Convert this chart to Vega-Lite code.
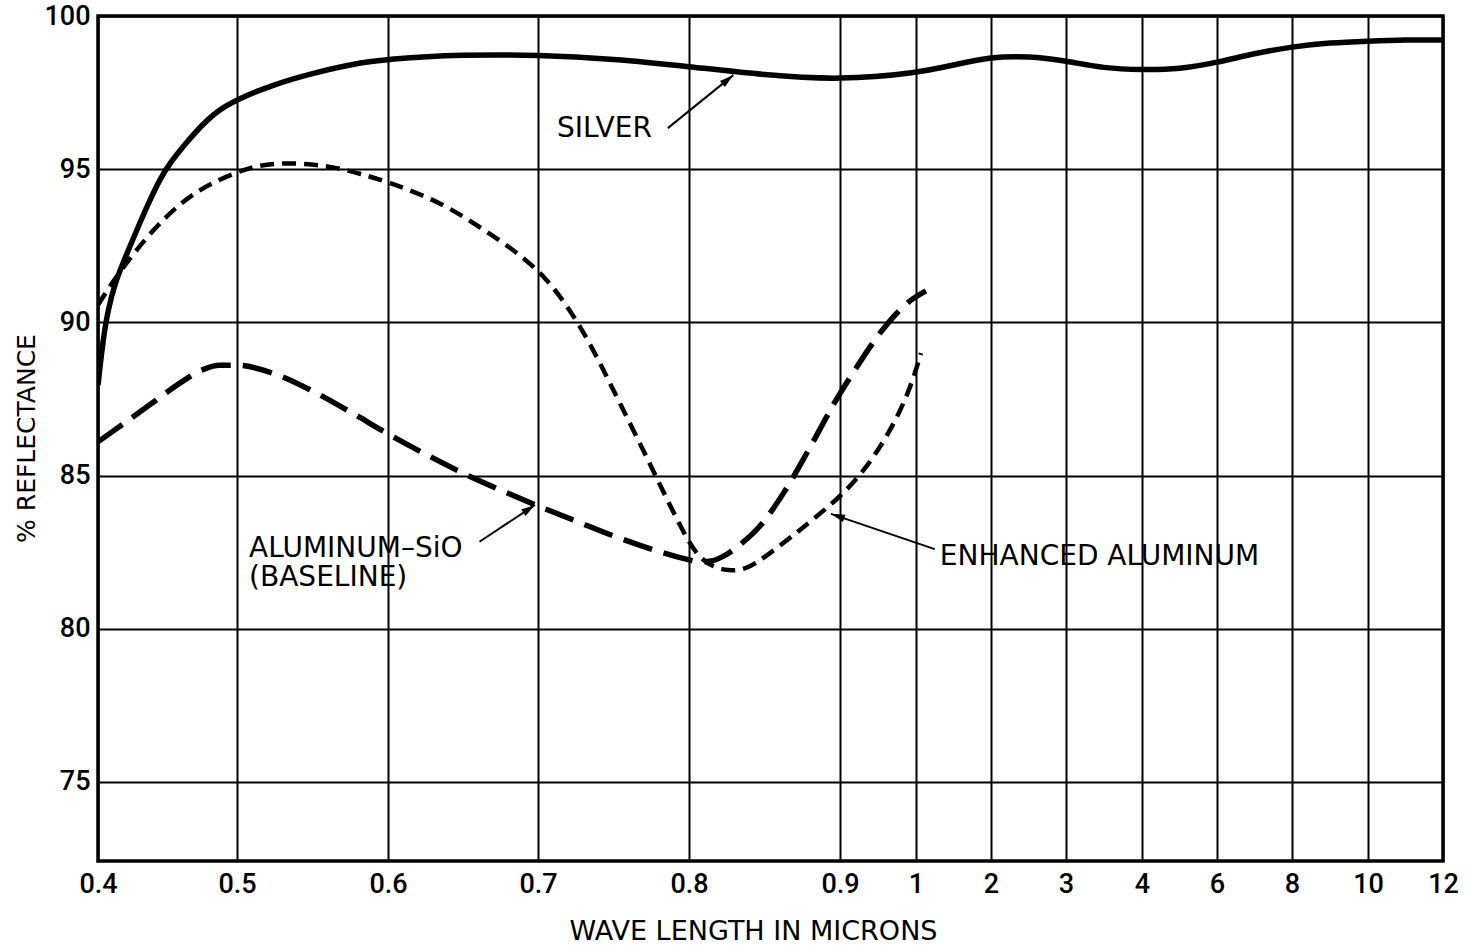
{
  "$schema": "https://vega.github.io/schema/vega-lite/v6.json",
  "width": 1345,
  "height": 845,
  "autosize": "none",
  "padding": {"left": 98, "top": 16, "right": 26, "bottom": 84},
  "background": "white",
  "config": {
    "view": {"stroke": "black", "strokeWidth": 3.5},
    "axis": {
      "domain": false,
      "ticks": false,
      "tickSize": 0,
      "grid": true,
      "gridColor": "black",
      "gridWidth": 2,
      "gridOpacity": 1,
      "labelFont": "Roboto",
      "labelFontWeight": 500,
      "labelFontSize": 27,
      "labelColor": "black",
      "titleFont": "DejaVu Sans",
      "titleColor": "black",
      "titleFontWeight": "normal"
    }
  },
  "datasets": {
    "curves": [
      {"series": "silver", "wl": 0.4, "r": 87.96},
      {"series": "silver", "wl": 0.4036, "r": 89.43},
      {"series": "silver", "wl": 0.40719, "r": 90.4},
      {"series": "silver", "wl": 0.41223, "r": 91.29},
      {"series": "silver", "wl": 0.41942, "r": 92.1},
      {"series": "silver", "wl": 0.42878, "r": 93.11},
      {"series": "silver", "wl": 0.43741, "r": 94.0},
      {"series": "silver", "wl": 0.4446, "r": 94.68},
      {"series": "silver", "wl": 0.4518, "r": 95.2},
      {"series": "silver", "wl": 0.46115, "r": 95.74},
      {"series": "silver", "wl": 0.4734, "r": 96.38},
      {"series": "silver", "wl": 0.48561, "r": 96.9},
      {"series": "silver", "wl": 0.5, "r": 97.28},
      {"series": "silver", "wl": 0.525, "r": 97.78},
      {"series": "silver", "wl": 0.55, "r": 98.13},
      {"series": "silver", "wl": 0.575, "r": 98.42},
      {"series": "silver", "wl": 0.6, "r": 98.6},
      {"series": "silver", "wl": 0.65, "r": 98.74},
      {"series": "silver", "wl": 0.7, "r": 98.73},
      {"series": "silver", "wl": 0.75, "r": 98.6},
      {"series": "silver", "wl": 0.8, "r": 98.35},
      {"series": "silver", "wl": 0.85, "r": 98.07},
      {"series": "silver", "wl": 0.9, "r": 97.91},
      {"series": "silver", "wl": 1, "r": 98.13},
      {"series": "silver", "wl": 1.5, "r": 98.4},
      {"series": "silver", "wl": 2, "r": 98.67},
      {"series": "silver", "wl": 2.5, "r": 98.69},
      {"series": "silver", "wl": 3, "r": 98.54},
      {"series": "silver", "wl": 3.5, "r": 98.29},
      {"series": "silver", "wl": 4, "r": 98.24},
      {"series": "silver", "wl": 5, "r": 98.26},
      {"series": "silver", "wl": 6, "r": 98.48},
      {"series": "silver", "wl": 7, "r": 98.78},
      {"series": "silver", "wl": 8, "r": 99.0},
      {"series": "silver", "wl": 9, "r": 99.13},
      {"series": "silver", "wl": 10, "r": 99.18},
      {"series": "silver", "wl": 11, "r": 99.22},
      {"series": "silver", "wl": 12, "r": 99.22},

      {"series": "enhanced", "wl": 0.4, "r": 90.57},
      {"series": "enhanced", "wl": 0.40863, "r": 91.19},
      {"series": "enhanced", "wl": 0.41727, "r": 91.74},
      {"series": "enhanced", "wl": 0.42662, "r": 92.3},
      {"series": "enhanced", "wl": 0.43741, "r": 92.89},
      {"series": "enhanced", "wl": 0.4482, "r": 93.41},
      {"series": "enhanced", "wl": 0.459, "r": 93.86},
      {"series": "enhanced", "wl": 0.46978, "r": 94.22},
      {"series": "enhanced", "wl": 0.48058, "r": 94.52},
      {"series": "enhanced", "wl": 0.5, "r": 94.91},
      {"series": "enhanced", "wl": 0.5153, "r": 95.14},
      {"series": "enhanced", "wl": 0.5305, "r": 95.2},
      {"series": "enhanced", "wl": 0.548, "r": 95.17},
      {"series": "enhanced", "wl": 0.5637, "r": 95.07},
      {"series": "enhanced", "wl": 0.5816, "r": 94.86},
      {"series": "enhanced", "wl": 0.6015, "r": 94.55},
      {"series": "enhanced", "wl": 0.6214, "r": 94.19},
      {"series": "enhanced", "wl": 0.6413, "r": 93.73},
      {"series": "enhanced", "wl": 0.6612, "r": 93.11},
      {"series": "enhanced", "wl": 0.6811, "r": 92.46},
      {"series": "enhanced", "wl": 0.7003, "r": 91.71},
      {"series": "enhanced", "wl": 0.7143, "r": 90.89},
      {"series": "enhanced", "wl": 0.7275, "r": 89.92},
      {"series": "enhanced", "wl": 0.7408, "r": 88.71},
      {"series": "enhanced", "wl": 0.7541, "r": 87.37},
      {"series": "enhanced", "wl": 0.7707, "r": 85.74},
      {"series": "enhanced", "wl": 0.7846, "r": 84.3},
      {"series": "enhanced", "wl": 0.7992, "r": 82.87},
      {"series": "enhanced", "wl": 0.8072, "r": 82.31},
      {"series": "enhanced", "wl": 0.8158, "r": 82.02},
      {"series": "enhanced", "wl": 0.8257, "r": 81.89},
      {"series": "enhanced", "wl": 0.8377, "r": 81.92},
      {"series": "enhanced", "wl": 0.8502, "r": 82.34},
      {"series": "enhanced", "wl": 0.8668, "r": 82.96},
      {"series": "enhanced", "wl": 0.8834, "r": 83.62},
      {"series": "enhanced", "wl": 0.9, "r": 84.3},
      {"series": "enhanced", "wl": 0.9329, "r": 85.18},
      {"series": "enhanced", "wl": 0.9658, "r": 86.42},
      {"series": "enhanced", "wl": 0.9921, "r": 87.79},
      {"series": "enhanced", "wl": 1.066, "r": 89.0},

      {"series": "aluminum", "wl": 0.4, "r": 86.1},
      {"series": "aluminum", "wl": 0.42, "r": 86.75},
      {"series": "aluminum", "wl": 0.44, "r": 87.4},
      {"series": "aluminum", "wl": 0.46, "r": 88.05},
      {"series": "aluminum", "wl": 0.475, "r": 88.45},
      {"series": "aluminum", "wl": 0.4875, "r": 88.6},
      {"series": "aluminum", "wl": 0.5, "r": 88.6},
      {"series": "aluminum", "wl": 0.525, "r": 88.32},
      {"series": "aluminum", "wl": 0.55, "r": 87.76},
      {"series": "aluminum", "wl": 0.575, "r": 87.08},
      {"series": "aluminum", "wl": 0.6, "r": 86.36},
      {"series": "aluminum", "wl": 0.625, "r": 85.7},
      {"series": "aluminum", "wl": 0.65, "r": 85.08},
      {"series": "aluminum", "wl": 0.675, "r": 84.53},
      {"series": "aluminum", "wl": 0.7, "r": 84.01},
      {"series": "aluminum", "wl": 0.725, "r": 83.52},
      {"series": "aluminum", "wl": 0.75, "r": 83.03},
      {"series": "aluminum", "wl": 0.775, "r": 82.6},
      {"series": "aluminum", "wl": 0.8, "r": 82.25},
      {"series": "aluminum", "wl": 0.8066, "r": 82.18},
      {"series": "aluminum", "wl": 0.8146, "r": 82.21},
      {"series": "aluminum", "wl": 0.8232, "r": 82.38},
      {"series": "aluminum", "wl": 0.8345, "r": 82.77},
      {"series": "aluminum", "wl": 0.8464, "r": 83.32},
      {"series": "aluminum", "wl": 0.863, "r": 84.46},
      {"series": "aluminum", "wl": 0.8796, "r": 85.87},
      {"series": "aluminum", "wl": 0.8963, "r": 87.37},
      {"series": "aluminum", "wl": 0.9197, "r": 88.45},
      {"series": "aluminum", "wl": 0.9461, "r": 89.43},
      {"series": "aluminum", "wl": 0.9724, "r": 90.24},
      {"series": "aluminum", "wl": 0.9921, "r": 90.7},
      {"series": "aluminum", "wl": 1.1326, "r": 91.03}
    ],
    "labels": [
      {"text": "SILVER", "wl": 0.7126, "r": 96.05},
      {"text": "ALUMINUM–SiO", "wl": 0.508, "r": 82.35},
      {"text": "(BASELINE)", "wl": 0.508, "r": 81.38},
      {"text": "ENHANCED ALUMINUM", "wl": 1.318, "r": 82.08}
    ],
    "arrows": [
      {"name": "silver", "wl": 0.786, "r": 96.34, "wl2": 0.8293, "r2": 98.07},
      {"name": "aluminum", "wl": 0.661, "r": 82.84, "wl2": 0.698, "r2": 84.04},
      {"name": "enhanced", "wl": 1.25, "r": 82.6, "wl2": 0.894, "r2": 83.75}
    ]
  },
  "encoding": {
    "x": {
      "field": "wl",
      "type": "quantitative",
      "scale": {
        "type": "linear",
        "domain": [0.4, 0.5, 0.6, 0.7, 0.8, 0.9, 1, 2, 3, 4, 6, 8, 10, 12],
        "range": [0, 139, 290, 440, 591, 742, 818, 893, 968, 1044, 1119, 1194, 1270, 1345],
        "nice": false,
        "zero": false
      },
      "axis": {
        "values": [0.4, 0.5, 0.6, 0.7, 0.8, 0.9, 1, 2, 3, 4, 6, 8, 10, 12],
        "labelExpr": "'' + datum.value",
        "labelPadding": 10,
        "labelFlush": false,
        "labelOverlap": false,
        "title": "WAVE LENGTH IN MICRONS",
        "titleFontSize": 27,
        "titleX": 655,
        "titleY": 78,
        "titleAlign": "center",
        "titleBaseline": "alphabetic"
      }
    },
    "y": {
      "field": "r",
      "type": "quantitative",
      "scale": {"domain": [72.42, 100], "nice": false, "zero": false},
      "axis": {
        "values": [75, 80, 85, 90, 95, 100],
        "labelPadding": 8,
        "labelFlush": false,
        "labelOverlap": false,
        "title": "% REFLECTANCE",
        "titleFontSize": 25,
        "titleAngle": 270,
        "titleX": -64,
        "titleY": 422,
        "titleAlign": "center",
        "titleBaseline": "alphabetic"
      }
    }
  },
  "layer": [
    {
      "data": {"name": "curves"},
      "transform": [{"filter": "datum.series === 'silver'"}],
      "mark": {"type": "line", "color": "black", "strokeWidth": 5.5, "interpolate": "basis", "clip": true}
    },
    {
      "data": {"name": "curves"},
      "transform": [{"filter": "datum.series === 'enhanced'"}],
      "mark": {"type": "line", "color": "black", "strokeWidth": 4.5, "strokeDash": [14, 8], "interpolate": "basis", "clip": true}
    },
    {
      "data": {"name": "curves"},
      "transform": [{"filter": "datum.series === 'aluminum'"}],
      "mark": {"type": "line", "color": "black", "strokeWidth": 5.5, "strokeDash": [30, 12], "interpolate": "monotone", "clip": true}
    },
    {
      "data": {"name": "arrows"},
      "mark": {"type": "rule", "color": "black", "strokeWidth": 2},
      "encoding": {
        "x2": {"field": "wl2"},
        "y2": {"field": "r2"}
      }
    },
    {
      "data": {"name": "arrows"},
      "transform": [{"filter": "datum.name === 'silver'"}],
      "mark": {"type": "point", "shape": "M0,0L-2,-0.55L-2,0.55Z", "filled": true, "color": "black", "opacity": 1, "size": 196, "angle": 320.8, "strokeWidth": 0},
      "encoding": {"x": {"field": "wl2", "type": "quantitative"}, "y": {"field": "r2", "type": "quantitative"}}
    },
    {
      "data": {"name": "arrows"},
      "transform": [{"filter": "datum.name === 'aluminum'"}],
      "mark": {"type": "point", "shape": "M0,0L-2,-0.55L-2,0.55Z", "filled": true, "color": "black", "opacity": 1, "size": 196, "angle": 326.5, "strokeWidth": 0},
      "encoding": {"x": {"field": "wl2", "type": "quantitative"}, "y": {"field": "r2", "type": "quantitative"}}
    },
    {
      "data": {"name": "arrows"},
      "transform": [{"filter": "datum.name === 'enhanced'"}],
      "mark": {"type": "point", "shape": "M0,0L-2,-0.55L-2,0.55Z", "filled": true, "color": "black", "opacity": 1, "size": 196, "angle": 198.6, "strokeWidth": 0},
      "encoding": {"x": {"field": "wl2", "type": "quantitative"}, "y": {"field": "r2", "type": "quantitative"}}
    },
    {
      "data": {"name": "labels"},
      "mark": {"type": "text", "align": "left", "baseline": "alphabetic", "font": "DejaVu Sans", "fontSize": 28, "color": "black"},
      "encoding": {"text": {"field": "text"}}
    }
  ]
}
